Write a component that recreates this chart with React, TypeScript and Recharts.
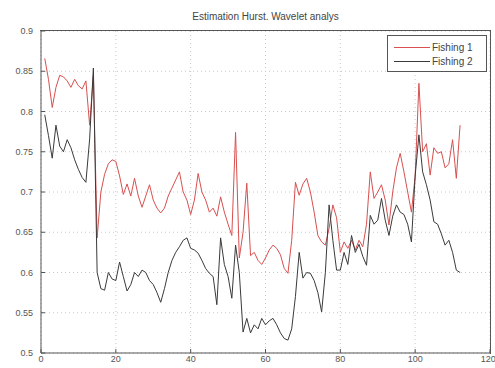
import { CartesianGrid, Line, LineChart, XAxis, YAxis } from 'recharts'

const steps = [
  1, 2, 3, 4, 5, 6, 7, 8, 9, 10, 11, 12, 13, 14, 15, 16, 17, 18, 19, 20,
  21, 22, 23, 24, 25, 26, 27, 28, 29, 30, 31, 32, 33, 34, 35, 36, 37, 38, 39, 40,
  41, 42, 43, 44, 45, 46, 47, 48, 49, 50, 51, 52, 53, 54, 55, 56, 57, 58, 59, 60,
  61, 62, 63, 64, 65, 66, 67, 68, 69, 70, 71, 72, 73, 74, 75, 76, 77, 78, 79, 80,
  81, 82, 83, 84, 85, 86, 87, 88, 89, 90, 91, 92, 93, 94, 95, 96, 97, 98, 99, 100,
  101, 102, 103, 104, 105, 106, 107, 108, 109, 110, 111, 112,
]

const fishing1 = [
  0.866, 0.84, 0.805, 0.83, 0.845, 0.843, 0.838, 0.83, 0.84, 0.832,
  0.828, 0.838, 0.783, 0.845, 0.643, 0.7, 0.722, 0.735, 0.74, 0.738,
  0.72, 0.697, 0.71, 0.695, 0.717, 0.695, 0.681, 0.695, 0.709, 0.69,
  0.68, 0.674, 0.68, 0.695, 0.705, 0.715, 0.725, 0.7, 0.69, 0.672,
  0.69, 0.723, 0.7, 0.69, 0.675, 0.68, 0.67, 0.694, 0.675, 0.66,
  0.646, 0.774, 0.618, 0.65, 0.711, 0.621, 0.625, 0.615, 0.61, 0.618,
  0.628, 0.634, 0.63, 0.622, 0.605, 0.599, 0.64, 0.712, 0.696, 0.71,
  0.717, 0.7, 0.675, 0.646, 0.638, 0.634, 0.655, 0.684, 0.668, 0.625,
  0.638, 0.63, 0.64, 0.628, 0.64, 0.632, 0.66, 0.725, 0.692, 0.7,
  0.709, 0.69, 0.659, 0.7, 0.73, 0.748, 0.725, 0.7, 0.675, 0.72,
  0.835, 0.75, 0.76, 0.721, 0.755, 0.748, 0.75, 0.73, 0.735, 0.765,
  0.717, 0.783,
]

const fishing2 = [
  0.796, 0.77, 0.742, 0.783, 0.757, 0.75, 0.765, 0.755, 0.74, 0.728,
  0.718, 0.712, 0.766, 0.854, 0.6, 0.58, 0.578, 0.6, 0.592, 0.59,
  0.613, 0.595, 0.577, 0.585, 0.6, 0.595, 0.603, 0.6, 0.59, 0.585,
  0.575, 0.563, 0.58, 0.6, 0.615, 0.625, 0.632, 0.64, 0.643, 0.63,
  0.628, 0.624, 0.615, 0.605, 0.599, 0.595, 0.56, 0.643, 0.61, 0.595,
  0.568, 0.634, 0.6, 0.526, 0.543, 0.525, 0.535, 0.53, 0.543, 0.535,
  0.54, 0.543, 0.535, 0.525, 0.518, 0.516, 0.53, 0.57, 0.625, 0.593,
  0.6, 0.599, 0.59, 0.575, 0.551, 0.6, 0.684, 0.64, 0.603, 0.603,
  0.625, 0.61, 0.646, 0.625, 0.635, 0.62, 0.609, 0.671, 0.66, 0.665,
  0.692, 0.665, 0.646, 0.67, 0.684, 0.675, 0.672, 0.66, 0.638, 0.72,
  0.771, 0.725, 0.709, 0.69, 0.663, 0.66, 0.648, 0.634, 0.64, 0.625,
  0.603, 0.6,
]

const xTicks = [0, 20, 40, 60, 80, 100, 120]
const yTicks = [0.5, 0.55, 0.6, 0.65, 0.7, 0.75, 0.8, 0.85, 0.9]

const RED = '#d8504f'
const DARK = '#3a3a3a'
const FONT = '"Liberation Sans", Arial, sans-serif'

const data = steps.map((x, i) => ({ x, f1: fishing1[i], f2: fishing2[i] }))

const tickStyle = { fontSize: 9, fill: '#555', fontFamily: FONT }

function LegendBox() {
  const rows = [
    { name: 'Fishing 1', color: RED },
    { name: 'Fishing 2', color: DARK },
  ]
  return (
    <div
      style={{
        position: 'absolute',
        top: 35,
        left: 387,
        width: 100,
        height: 37,
        boxSizing: 'border-box',
        border: '1px solid #555',
        background: '#fff',
        paddingTop: 4,
        fontFamily: FONT,
        fontSize: 10,
        color: '#444',
      }}
    >
      {rows.map((r) => (
        <div key={r.name} style={{ display: 'flex', alignItems: 'center', height: 14 }}>
          <span style={{ display: 'inline-block', width: 36, height: 1, background: r.color, marginLeft: 6 }} />
          <span style={{ marginLeft: 2 }}>{r.name}</span>
        </div>
      ))}
    </div>
  )
}

export default function App() {
  return (
    <div style={{ position: 'absolute', left: 0, top: 0, width: 495, height: 368, background: '#fff' }}>
      <div
        style={{
          position: 'absolute',
          top: 11,
          left: 41,
          width: 449,
          textAlign: 'center',
          fontFamily: FONT,
          fontSize: 10,
          color: '#444',
        }}
      >
        Estimation Hurst. Wavelet analys
      </div>
      <LineChart width={495} height={368} data={data} margin={{ top: 31, right: 5, bottom: 0, left: 0 }}>
        <CartesianGrid stroke="#c8c8c8" strokeDasharray="1 3" verticalValues={xTicks} horizontalValues={yTicks} />
        <XAxis
          dataKey="x"
          type="number"
          domain={[0, 120]}
          ticks={xTicks}
          height={15}
          tick={tickStyle}
          tickSize={-4}
          tickMargin={7}
          stroke="#555"
          allowDataOverflow
        />
        <YAxis
          type="number"
          domain={[0.5, 0.9]}
          ticks={yTicks}
          width={41}
          tick={tickStyle}
          tickSize={-4}
          tickMargin={12}
          stroke="#555"
          allowDataOverflow
        />
        <Line dataKey="f1" stroke={RED} strokeWidth={1} dot={false} isAnimationActive={false} />
        <Line dataKey="f2" stroke={DARK} strokeWidth={1} dot={false} isAnimationActive={false} />
      </LineChart>
      {/* frame around the plot area, like the MATLAB axes box */}
      <div
        style={{
          position: 'absolute',
          left: 40,
          top: 30,
          width: 451,
          height: 324,
          boxSizing: 'border-box',
          borderTop: '1px solid #555',
          borderRight: '1px solid #555',
          pointerEvents: 'none',
          zIndex: 2,
        }}
      />
      <LegendBox />
    </div>
  )
}
